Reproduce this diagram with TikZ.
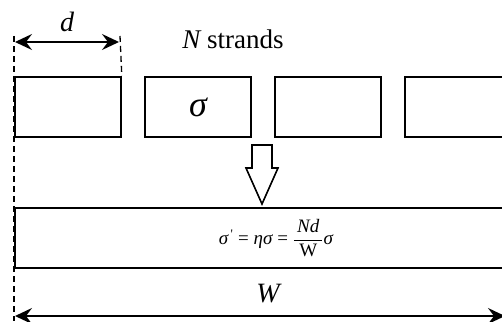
\documentclass[tikz,border=0pt]{standalone}
\usepackage{fontspec}
\setmainfont{Liberation Serif}
\newfontfamily\timesfont{Liberation Serif}
\usetikzlibrary{arrows.meta}
\tikzset{
  strandbox/.style={draw, line width=1.8pt, minimum width=106pt, minimum height=60pt, inner sep=0pt, anchor=north west},
  guide/.style={line width=1.3pt, dash pattern=on 6pt off 4pt},
  dimarrow/.style={line width=1.6pt, {Stealth[length=17pt,width=16pt,inset=6pt]}-{Stealth[length=17pt,width=16pt,inset=6pt]}},
  lbl/.style={font=\timesfont\fontsize{28}{28}\selectfont, inner sep=0pt}
}
\begin{document}
\begin{tikzpicture}[x=1pt,y=-1pt]
  \useasboundingbox (0,0) rectangle (502,321);
  \clip (0,0) rectangle (502,321);
  \fill[white] (0,0) rectangle (502,321);

  % strands
  \node[strandbox] (s1) at (14,76) {};
  \node[strandbox] (s2) at (144,76) {\timesfont\fontsize{36}{36}\selectfont\itshape σ};
  \node[strandbox] (s3) at (274,76) {};
  \node[strandbox] (s4) at (404,76) {};

  % homogenised layer
  \node[draw, line width=1.8pt, minimum width=506pt, minimum height=60pt, inner sep=0pt, anchor=north west] (layer) at (14,207) {};
  \node (eq) at (276,238) {\timesfont\fontsize{19}{19}\selectfont
    $\hbox{\itshape σ}^{\hbox{\fontsize{13}{13}\selectfont\,\char"27}}\mathrel{\hbox{=}}\hbox{\itshape ησ}\mathrel{\hbox{=}}\displaystyle\frac{\hbox{\itshape\,Nd\,}}{\hbox{W}}\hbox{\itshape σ}$};

  % hollow arrow
  \draw[line width=1.6pt, fill=white] (252,145) -- (272,145) -- (272,168) -- (278,168)
    -- (262,204) -- (246,168) -- (252,168) -- cycle;

  % guides
  \coordinate (gtop1) at (14,36);
  \coordinate (gbot1) at (14,321);
  \coordinate (gtop2) at (120,36);
  \draw[guide] (gtop1) -- (gbot1);
  \draw[guide] (gtop2) -- (s1.north east);

  % dimensions
  \coordinate (d1) at (15,42);
  \coordinate (d2) at (119,42);
  \draw[dimarrow] (d1) -- (d2);
  \node[lbl] (dl) at (67,22) {\itshape d};

  \coordinate (w1) at (15,316);
  \coordinate (w2) at (505,316);
  \draw[dimarrow] (w1) -- (w2);
  \node[lbl] (wl) at (268,294) {\itshape W};

  \node[lbl, font=\timesfont\fontsize{27}{27}\selectfont] (ns) at (233,39) {\itshape N\upshape\ strands};
\end{tikzpicture}
\end{document}
